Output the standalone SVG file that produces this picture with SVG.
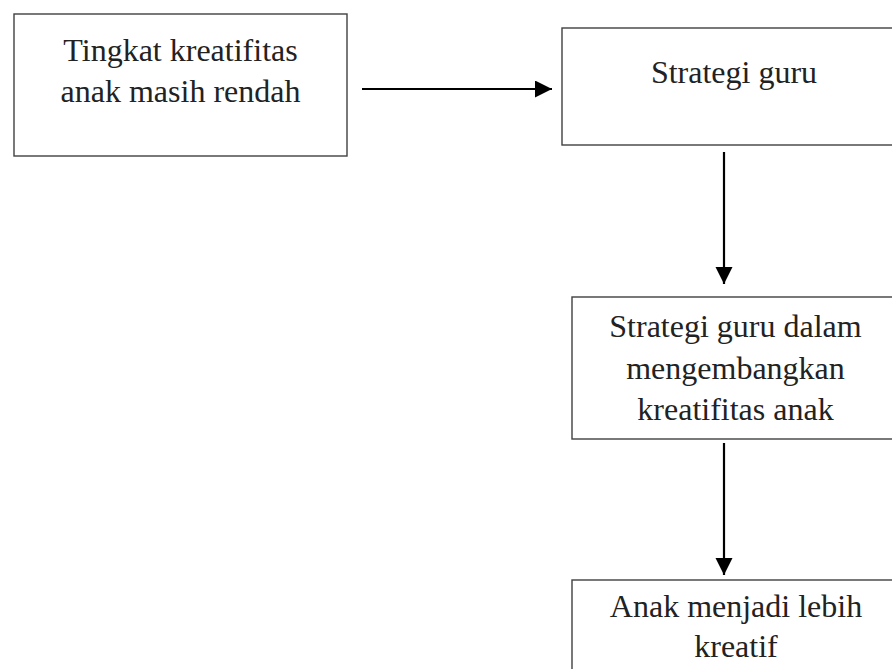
<svg xmlns="http://www.w3.org/2000/svg" width="892" height="669" viewBox="0 0 892 669">
<style>
.box{fill:#fff;stroke:#404040;stroke-width:1.4}
.t{font-family:"Liberation Serif","Times New Roman",serif;font-size:32px;fill:#222;text-anchor:middle}
.c{stroke:#000;stroke-width:2.2;fill:none}
</style>
<defs>
<marker id="ah" markerUnits="userSpaceOnUse" markerWidth="18" markerHeight="18" refX="17" refY="8.5" orient="auto">
<path d="M0,0 L17,8.5 L0,17 Z" fill="#000"/>
</marker>
</defs>
<rect width="892" height="669" fill="#fff"/>
<g id="n1">
<rect class="box" x="14" y="14" width="333" height="142"/>
<text class="t" x="180.5" y="61">Tingkat kreatifitas</text>
<text class="t" x="180.5" y="102">anak masih rendah</text>
</g>
<g id="n2">
<rect class="box" x="562" y="28" width="345" height="117"/>
<text class="t" x="734" y="83">Strategi guru</text>
</g>
<g id="n3">
<rect class="box" x="572" y="297" width="335" height="142"/>
<text class="t" x="735.5" y="337">Strategi guru dalam</text>
<text class="t" x="735.5" y="379">mengembangkan</text>
<text class="t" x="735.5" y="420">kreatifitas anak</text>
</g>
<g id="n4">
<rect class="box" x="572" y="580" width="335" height="100"/>
<text class="t" x="736" y="617">Anak menjadi lebih</text>
<text class="t" x="736" y="657">kreatif</text>
</g>
<g id="connectors">
<line class="c" x1="362" y1="89" x2="552" y2="89" marker-end="url(#ah)"/>
<line class="c" x1="724" y1="152" x2="724" y2="284" marker-end="url(#ah)"/>
<line class="c" x1="724" y1="443" x2="724" y2="575" marker-end="url(#ah)"/>
</g>
</svg>
